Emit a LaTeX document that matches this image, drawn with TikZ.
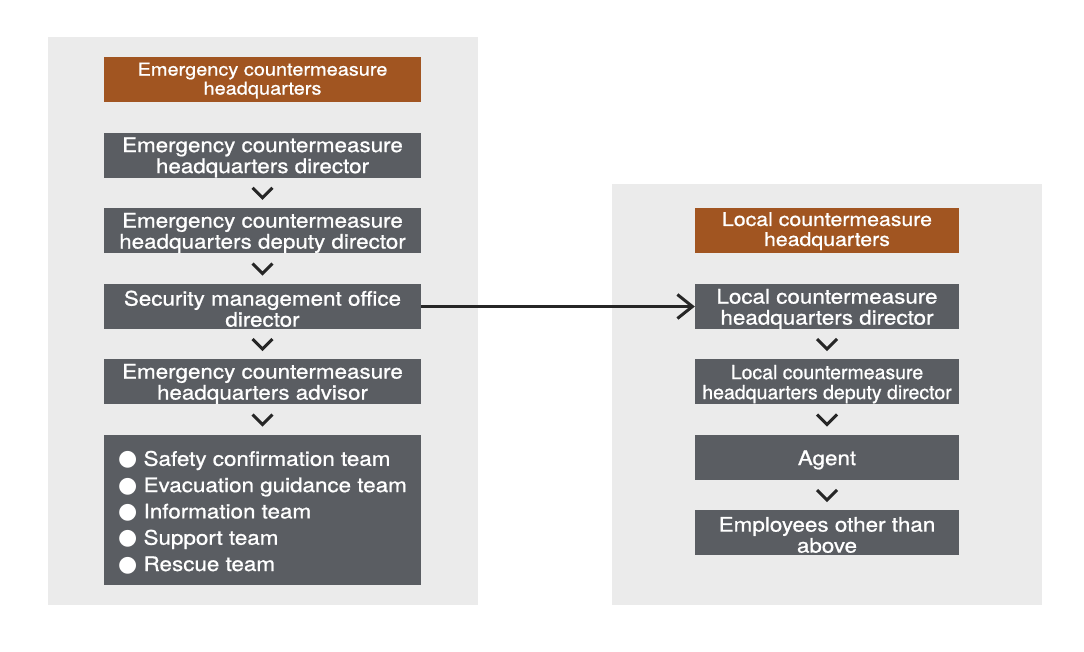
\documentclass[tikz,border=0pt]{standalone}
\usepackage{fontspec}
\usetikzlibrary{arrows.meta,calc}
\newfontfamily\hvw[FakeStretch=1.12,FakeBold=0.9]{TeX Gyre Heros}
\newfontfamily\hvn[FakeBold=0.9]{TeX Gyre Heros}
\newfontfamily\symf{DejaVu Sans}
\definecolor{panelgray}{RGB}{235,235,235}
\definecolor{boxgray}{RGB}{90,93,98}
\definecolor{hqorange}{RGB}{161,85,33}
\definecolor{chevcol}{RGB}{38,38,38}
\newcommand{\bul}{{\symf\fontsize{22}{22}\selectfont ●}}
\newcommand{\stt}{\rule{0pt}{19.5pt}}
\newcommand{\sth}{\rule{0pt}{15pt}}
\begin{document}
\begin{tikzpicture}[x=1pt,y=-1pt,
  panel/.style={fill=panelgray,draw=none},
  box/.style={fill=boxgray,text=white,inner sep=0pt,align=center,
    minimum height=45pt,font=\hvw\fontsize{20}{21}\selectfont},
  lbox/.style={box,minimum width=317pt},
  rbox/.style={box,minimum width=264pt},
  hq/.style={fill=hqorange},
  hqtext/.style={font=\hvw\fontsize{17.8}{19}\selectfont},
  chev/.style={draw=chevcol,line width=3pt,line cap=butt,line join=miter}]
\useasboundingbox (0,0) rectangle (1084,651);
\fill[white] (0,0) rectangle (1084,651);
% panels
\path[panel] (48,37) rectangle (478,605);
\path[panel] (612,184) rectangle (1042,605);
% left column
\node[lbox,hq,hqtext] (lhq) at (262.5,79.5) {\sth Emergency countermeasure\\headquarters};
\node[lbox] (l1) at (262.5,155) {\stt Emergency countermeasure\\headquarters director};
\node[lbox] (l2) at (262.5,230.5) {\stt Emergency countermeasure\\headquarters deputy director};
\node[lbox] (l3) at (262.5,306.5) {\stt Security management office\\director};
\node[lbox] (l4) at (262.5,381.5) {\stt Emergency countermeasure\\headquarters advisor};
\node[lbox,minimum height=150pt,align=left,font=\hvw\fontsize{20}{26.3}\selectfont] (l5) at (262.5,510)
  {\stt\bul\ Safety confirmation team\\
   \bul\ Evacuation guidance team\\
   \bul\ Information team\\
   \bul\ Support team\\
   \bul\ Rescue team};
% right column
\node[rbox,hq,hqtext,font=\hvw\fontsize{19}{20}\selectfont] (rhq) at (827,230.5) {\sth Local countermeasure\\headquarters};
\node[rbox] (r1) at (827,306.5) {\stt Local countermeasure\\headquarters director};
\node[rbox,font=\hvn\fontsize{19.5}{20}\selectfont] (r2) at (827,381.5) {\stt Local countermeasure\\headquarters deputy director};
\node[rbox] (r3) at (827,457.5) {\stt Agent};
\node[rbox] (r4) at (827,532.5) {\stt Employees other than\\above};
% chevrons
\foreach \a/\b in {l1/l2,l2/l3,l3/l4,l4/l5,r1/r2,r2/r3,r3/r4}{
  \coordinate (m) at ($(\a.south)!0.5!(\b.north)$);
  \draw[chev] ($(m)+(-10,-5)$) -- ($(m)+(0,5)$) -- ($(m)+(10,-5)$);
}
% main arrow
\draw[draw=chevcol,line width=3pt,-{Straight Barb[length=15pt,width=24pt]}] (l3.east) -- (r1.west);
\end{tikzpicture}
\end{document}
